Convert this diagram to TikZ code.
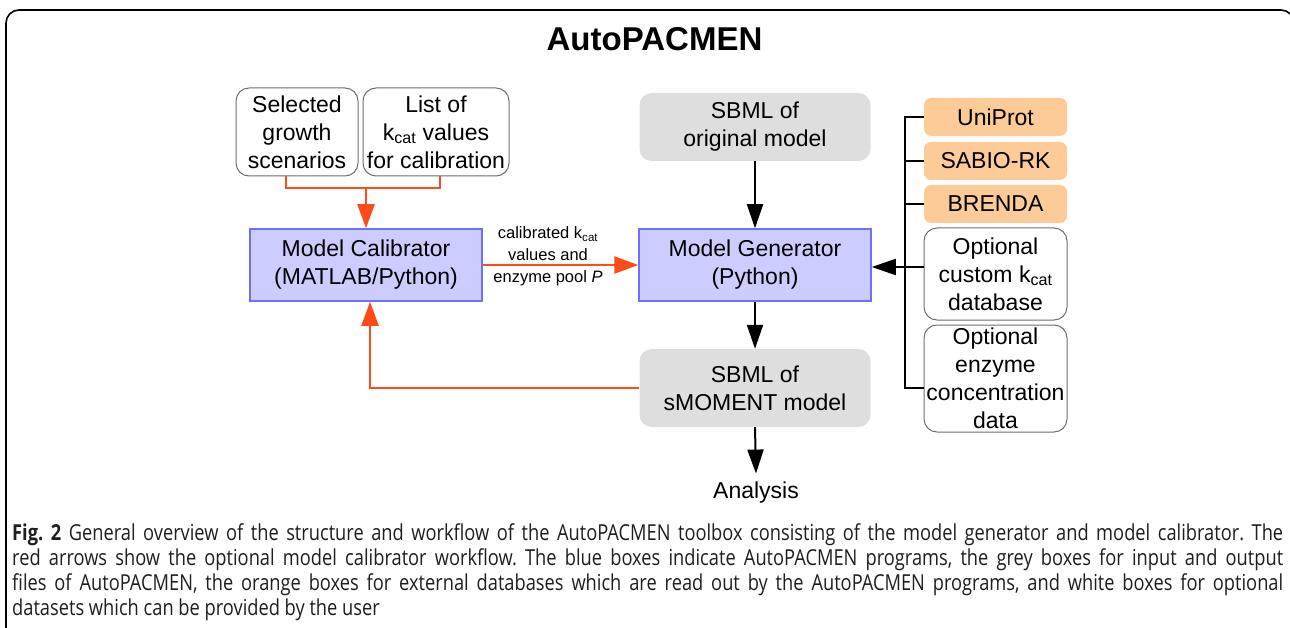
\documentclass[tikz,border=0pt]{standalone}
\usepackage{fontspec}
\setmainfont{Liberation Sans}
\newfontfamily\capfont[FakeStretch=0.83]{Open Sans}
\usetikzlibrary{arrows.meta}
\definecolor{redarr}{RGB}{255,75,25}
\definecolor{bluefill}{RGB}{204,204,255}
\definecolor{blueline}{RGB}{110,110,255}
\definecolor{grayfill}{RGB}{222,222,222}
\definecolor{orangefill}{RGB}{252,203,152}
\definecolor{boxline}{RGB}{110,110,110}
\definecolor{captext}{RGB}{30,30,30}
\frenchspacing
\begin{document}
\begin{tikzpicture}[x=1pt,y=-1pt,
  txt/.style={font=\fontsize{23}{28}\selectfont, align=center, inner sep=0pt},
  progbox/.style={txt, draw=blueline, line width=1.5pt, fill=bluefill, minimum width=232pt, minimum height=72pt},
  filebox/.style={txt, fill=grayfill, rounded corners=12pt, minimum width=231pt},
  dbbox/.style={txt, fill=orangefill, rounded corners=7pt, minimum width=143pt, minimum height=38pt},
  userbox/.style={txt, draw=boxline, line width=1pt, fill=white, rounded corners=13pt},
  blackarrow/.style={line width=2pt, -{Triangle[length=24pt,width=16pt]}},
  redline/.style={draw=redarr, line width=2.5pt},
  redarrow/.style={redline, -{Triangle[length=24pt,width=17pt]}},
  bus/.style={line width=2pt}]
\useasboundingbox (0,0) rectangle (1290,628);
\clip (0,0) rectangle (1290,628);
\draw[line width=1.6pt, rounded corners=13pt] (6,10) rectangle (1294,700);

\node[font=\bfseries\fontsize{33}{36}\selectfont, inner sep=0pt] (title) at (654.5,39.5) {AutoPACMEN};

% left inputs
\node[userbox, minimum width=122pt, minimum height=88pt] (sel) at (297,132) {Selected\\growth\\scenarios};
\node[userbox, minimum width=146pt, minimum height=88pt] (lst) at (436,132) {List of\\k\textsubscript{cat} values\\for calibration};

% programs
\node[progbox] (cal) at (366,265) {Model Calibrator\\(MATLAB/Python)};
\node[progbox] (gen) at (755,265) {Model Generator\\(Python)};

% files
\node[filebox, minimum height=68pt] (orig) at (755,127) {SBML of\\original model};
\node[filebox, minimum height=78pt] (smo) at (755,388) {SBML of\\sMOMENT model};
\node[txt] (ana) at (756,492.5) {Analysis};

% databases
\node[dbbox] (uni) at (995.5,117) {UniProt};
\node[dbbox] (sab) at (995.5,161) {SABIO-RK};
\node[dbbox] (bre) at (995.5,204) {BRENDA};
\node[userbox, minimum width=143pt, minimum height=92pt] (cus) at (995.5,274) {Optional\\custom k\textsubscript{cat}\\database};
\node[userbox, minimum width=143pt, minimum height=107pt] (enz) at (995.5,378.5) {Optional\\enzyme\\concentration\\data};

% edge label
\node[font=\fontsize{16.5}{22}\selectfont, align=center, inner sep=0pt] (lab) at (548,256.5) {calibrated k\textsubscript{cat}\\values and\\enzyme pool \textit{P}};

% red connectors
\coordinate (j1) at (366,188);
\draw[redline] ([xshift=-11pt]sel.south) |- (j1) -| ([xshift=4pt]lst.south);
\draw[redarrow] (j1) -- (cal.north);
\draw[redarrow] (cal.east) -- (gen.west);
\draw[redarrow] (smo.west) -| ([xshift=4pt]cal.south);

% black connectors
\draw[blackarrow] (orig.south) -- (gen.north);
\draw[blackarrow] (gen.south) -- (smo.north);
\draw[blackarrow] (smo.south) -- ([yshift=8pt]ana.north);

% bus
\coordinate (bx) at (905,0);
\coordinate (t4) at (905,267);
\coordinate (t5) at (905,388);
\draw[bus] (uni.west) -- (uni.west -| bx) -- (t5) -- (t5 -| enz.west);
\draw[bus] (sab.west) -- (sab.west -| bx);
\draw[bus] (bre.west) -- (bre.west -| bx);
\draw[bus] (t4 -| cus.west) -- (t4);
\draw[blackarrow] (t4) -- (t4 -| gen.east);

% caption
\node[font=\capfont\fontsize{22}{25}\selectfont, text=captext, text width=1271pt, align=justify, inner sep=0pt, anchor=north west] (cap) at (12,523)
{\textbf{Fig. 2} General overview of the structure and workflow of the AutoPACMEN toolbox consisting of the model generator and model calibrator. The\linebreak
red arrows show the optional model calibrator workflow. The blue boxes indicate AutoPACMEN programs, the grey boxes for input and output\linebreak
files of AutoPACMEN, the orange boxes for external databases which are read out by the AutoPACMEN programs, and white boxes for optional\linebreak
datasets which can be provided by the user};
\end{tikzpicture}
\end{document}
